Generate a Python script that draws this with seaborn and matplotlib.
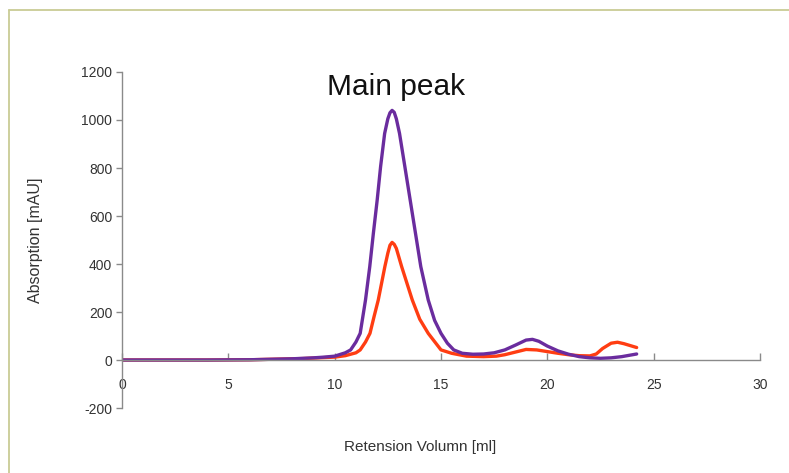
import numpy as np
import pandas as pd
import seaborn as sns
import matplotlib
matplotlib.use("Agg")
import matplotlib.pyplot as plt
from matplotlib.lines import Line2D

# ---- data ----
purple_x = [0, 2, 4, 6, 7, 8, 8.5, 9, 9.5, 10, 10.5, 10.75, 11.0, 11.2, 11.45, 11.65,
            11.82, 12.0, 12.16, 12.35, 12.5, 12.6, 12.7, 12.8, 12.9, 13.05, 13.3, 13.55,
            13.8, 14.05, 14.4, 14.7, 15.0, 15.3, 15.6, 16.0, 16.5, 17.0, 17.5, 18.0,
            18.5, 19.0, 19.3, 19.6, 20.0, 20.5, 21.0, 21.5, 22.0, 22.5, 23.0, 23.5, 24.2]
purple_y = [0, 0, 0, 1, 3, 5, 7, 9, 12, 16, 30, 42, 75, 111, 250, 389,
            528, 667, 806, 944, 1005, 1030, 1040, 1032, 1005, 944, 806, 667,
            528, 389, 250, 165, 111, 70, 42, 28, 24, 25, 30, 42,
            62, 83, 86, 78, 58, 38, 24, 14, 9, 7, 9, 14, 25]

red_x = [0, 2, 4, 6, 7, 8, 8.5, 9, 9.5, 10, 10.5, 11.0, 11.2, 11.45, 11.66, 11.85,
         12.05, 12.36, 12.5, 12.6, 12.7, 12.8, 12.9, 13.15, 13.65, 14.0, 14.4, 15.0,
         15.5, 16.2, 17.0, 17.6, 18.0, 18.5, 19.0, 19.5, 20.0, 20.5, 21.0, 21.5,
         22.0, 22.3, 22.6, 23.0, 23.3, 23.6, 24.2]
red_y = [0, 0, 0, 1, 3, 5, 6, 8, 10, 12, 18, 30, 42, 75, 111, 180,
         250, 389, 445, 478, 490, 482, 465, 389, 250, 170, 111, 42,
         28, 16, 14, 16, 22, 33, 44, 42, 35, 28, 22, 18,
         17, 25, 48, 70, 74, 68, 52]

x_ticks = [0, 5, 10, 15, 20, 25, 30]
y_ticks = [-200, 0, 200, 400, 600, 800, 1000, 1200]

df = pd.concat([
    pd.DataFrame({"x": purple_x, "y": purple_y, "series": "purple"}),
    pd.DataFrame({"x": red_x, "y": red_y, "series": "red"}),
], ignore_index=True)

sns.set_theme(style="white")
plt.rcParams["font.family"] = ["Liberation Sans", "DejaVu Sans"]
plt.rcParams["axes.unicode_minus"] = False

fig = plt.figure(figsize=(7.89, 4.73), dpi=100)
ax = fig.add_axes([122 / 789, 1 - 408 / 473, 638 / 789, 336 / 473])

sns.lineplot(data=df, x="x", y="y", hue="series", sort=False, estimator=None,
             palette={"purple": "#6a2c9e", "red": "#ff3d12"},
             hue_order=["red", "purple"],
             linewidth=2.4, legend=False, ax=ax,
             solid_joinstyle="round", solid_capstyle="round")

ax.set_xlim(0, 30)
ax.set_ylim(-200, 1200)
ax.set_xticks(x_ticks)
ax.set_yticks(y_ticks)

for s in ["top", "right"]:
    ax.spines[s].set_visible(False)
ax.spines["bottom"].set_position(("data", 0))
for s in ["left", "bottom"]:
    ax.spines[s].set_color("#8a8a8a")
    ax.spines[s].set_linewidth(1.0)

ax.tick_params(axis="x", direction="in", length=5, width=1, color="#8a8a8a",
               pad=13, labelsize=10, labelcolor="#333333", bottom=True)
ax.tick_params(axis="y", direction="out", length=4, width=1, color="#8a8a8a",
               pad=3, labelsize=10, labelcolor="#333333", left=True)

ax.set_xlabel("Retension Volumn [ml]", fontsize=11, color="#333333")
ax.set_ylabel("Absorption [mAU]", fontsize=11.5, color="#333333")
ax.xaxis.set_label_coords((420 - 122) / 638, (408 - 440) / 336)
ax.yaxis.set_label_coords((43 - 122) / 638, (408 - 240) / 336)

fig.text(396 / 789, 1 - 87 / 473, "Main peak", fontsize=21.5, color="#111111",
         ha="center", va="center")

# light olive frame (top and left edges)
fig.add_artist(Line2D([9 / 789, 1.0], [1 - 10 / 473, 1 - 10 / 473],
                      transform=fig.transFigure, color="#c9cc95", linewidth=1.3))
fig.add_artist(Line2D([9 / 789, 9 / 789], [0, 1 - 10 / 473],
                      transform=fig.transFigure, color="#c9cc95", linewidth=1.3))

fig.savefig("out.png", dpi=100)
